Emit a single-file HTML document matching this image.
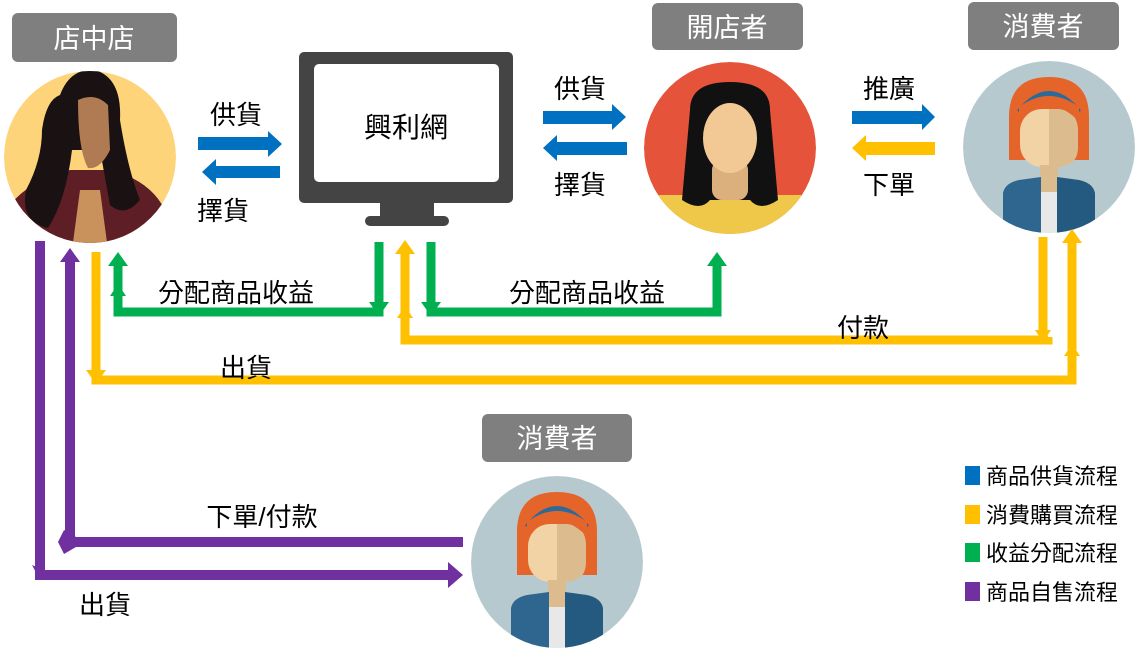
<!DOCTYPE html>
<html><head><meta charset="utf-8"><style>
html,body{margin:0;padding:0;background:#fff}
svg{display:block}
text{font-family:"Liberation Sans","Noto Sans CJK TC",sans-serif}
</style></head><body>
<svg width="1140" height="652" viewBox="0 0 1140 652" xmlns="http://www.w3.org/2000/svg">
<defs>
<clipPath id="c1"><circle cx="90" cy="157" r="86"/></clipPath>
<clipPath id="c2"><circle cx="730" cy="148" r="86"/></clipPath>
<clipPath id="c3"><circle cx="1049" cy="147" r="86"/></clipPath>
<clipPath id="c4"><circle cx="557" cy="562" r="86"/></clipPath>
<g id="cons">
<circle cx="0" cy="0" r="86" fill="#b6c9cf"/>
<path d="M-40,-30 Q-40,-70 0,-70 Q40,-70 40,-30 L40,13 L-40,13Z" fill="#e4642a"/>
<path d="M-30,-35 Q0,-72 30,-35" stroke="#2c6a9a" stroke-width="5" fill="none"/>
<rect x="-29" y="-38" width="58" height="58" rx="22" fill="#f2d3a6"/>
<path d="M0,-38 H7 Q29,-38 29,-16 V0 Q29,20 7,20 H0Z" fill="#dcbb8f"/>
<path d="M-30,-28 Q-5,-58 30,-26 L30,-40 Q0,-62 -30,-40Z" fill="#e4642a"/>
<rect x="-9" y="18" width="18" height="30" fill="#dcbb8f"/>
<path d="M-46,90 L-46,46 Q-44,36 -30,33 L-8,30 L-8,90Z" fill="#2f6690"/>
<path d="M46,90 L46,46 Q44,36 30,33 L8,30 L8,90Z" fill="#255a80"/>
<rect x="-8" y="45" width="16" height="45" fill="#e8e8e8"/>
</g>
</defs>

<rect x="12" y="13" width="165" height="49" rx="6" fill="#7f7f7f"/>
<text x="94" y="48" font-size="27" fill="#fff" text-anchor="middle">店中店</text>
<rect x="652" y="3" width="151" height="47" rx="6" fill="#7f7f7f"/>
<text x="727" y="37" font-size="27" fill="#fff" text-anchor="middle">開店者</text>
<rect x="968" y="2" width="151" height="48" rx="6" fill="#7f7f7f"/>
<text x="1043" y="36" font-size="27" fill="#fff" text-anchor="middle">消費者</text>
<rect x="482" y="414" width="150" height="48" rx="6" fill="#7f7f7f"/>
<text x="557" y="448" font-size="27" fill="#fff" text-anchor="middle">消費者</text>

<g clip-path="url(#c1)">
<circle cx="90" cy="157" r="86" fill="#fdd47a"/>
<path d="M0,260 L10,205 Q30,180 70,170 L110,170 Q150,180 165,210 L175,260Z" fill="#5e1e26"/>
<path d="M80,190 L100,190 L108,250 L72,250Z" fill="#c9925c"/>
<path d="M60,95 Q70,68 95,70 Q122,78 120,120 Q128,170 140,200 Q125,218 110,205 L100,150 L72,150 Q66,200 48,228 Q20,222 26,190 Q42,160 42,130 Q46,100 60,95Z" fill="#1a1212"/>
<path d="M78,100 Q95,92 108,105 L110,150 Q100,170 88,168 Q78,150 78,100Z" fill="#b07a53"/>
</g>

<g clip-path="url(#c2)">
<circle cx="730" cy="148" r="86" fill="#e5533a"/>
<rect x="640" y="195" width="180" height="50" fill="#efc84a"/>
<path d="M690,110 Q690,82 730,82 Q770,82 770,110 L778,200 Q760,212 750,200 L710,200 Q700,212 682,200Z" fill="#111"/>
<rect x="712" y="160" width="36" height="40" rx="10" fill="#dcb07c"/>
<ellipse cx="730" cy="138" rx="27" ry="35" fill="#f2c894"/>
</g>

<g clip-path="url(#c3)"><use href="#cons" x="1049" y="147"/></g>
<g clip-path="url(#c4)"><use href="#cons" x="557" y="562"/></g>

<rect x="299" y="52" width="214" height="151" rx="5" fill="#444"/>
<rect x="314" y="64" width="185" height="118" rx="5" fill="#fff"/>
<rect x="380" y="202" width="54" height="16" fill="#444"/>
<rect x="365" y="216" width="84" height="10" rx="5" fill="#444"/>
<text x="406" y="137" font-size="28" text-anchor="middle" fill="#000">興利網</text>

<path d="M198,137 H268 V131 L282,144 L268,157 V150 H198Z" fill="#0070c0"/>
<path d="M280,166 H216 V159 L202,172 L216,185 V178 H280Z" fill="#0070c0"/>
<text x="236" y="124" font-size="26" text-anchor="middle">供貨</text>
<text x="223" y="220" font-size="26" text-anchor="middle">擇貨</text>
<path d="M543,111 H612 V104 L626,117 L612,130 V124 H543Z" fill="#0070c0"/>
<path d="M627,142 H557 V135 L543,148 L557,161 V155 H627Z" fill="#0070c0"/>
<text x="580" y="98" font-size="26" text-anchor="middle">供貨</text>
<text x="580" y="194" font-size="26" text-anchor="middle">擇貨</text>
<path d="M852,111 H922 V104 L935,117 L922,130 V124 H852Z" fill="#0070c0"/>
<path d="M935,142 H866 V135 L852,148 L866,161 V155 H935Z" fill="#ffc000"/>
<text x="889" y="98" font-size="26" text-anchor="middle">推廣</text>
<text x="889" y="194" font-size="26" text-anchor="middle">下單</text>

<g fill="none" stroke="#00b050" stroke-width="9">
<path d="M118,262 V312 H379 V305"/>
<path d="M379,242 V305"/>
<path d="M431,242 V312 H717 V262"/>
</g>
<g fill="#00b050">
<path d="M108,266 L118,252 L128,266Z"/>
<path d="M110,296 L118,284 L126,296Z"/>
<path d="M369,302 L379,316 L389,302Z"/>
<path d="M421,302 L431,316 L441,302Z"/>
<path d="M707,266 L717,252 L727,266Z"/>
</g>
<text x="236" y="302" font-size="26" text-anchor="middle">分配商品收益</text>
<text x="587" y="302" font-size="26" text-anchor="middle">分配商品收益</text>

<g fill="none" stroke="#ffc000" stroke-width="9">
<path d="M96,252 V380 H1072 V240"/>
<path d="M405,252 V340 H1048 V337"/>
<path d="M1043,237 V335"/>
</g>
<g fill="#ffc000">
<path d="M395,254 L405,240 L415,254Z"/>
<path d="M397,318 L405,306 L413,318Z"/>
<path d="M86,370 L96,384 L106,370Z"/>
<path d="M1062,243 L1072,229 L1082,243Z"/>
<path d="M1064,356 L1072,344 L1080,356Z"/>
<path d="M1035,330 L1043,342 L1051,330Z"/>
</g>
<text x="863" y="337" font-size="26" text-anchor="middle">付款</text>
<text x="246" y="377" font-size="26" text-anchor="middle">出貨</text>

<g fill="none" stroke="#7030a0" stroke-width="10">
<path d="M40,241 V575 H450"/>
<path d="M70,260 V542 H463"/>
</g>
<g fill="#7030a0">
<path d="M60,262 L70,248 L80,262Z"/>
<path d="M448,562 L463,575 L448,588Z"/>
<path d="M64,530 L58,542 L64,554 L76,547 L76,537Z"/>
<path d="M32,565 L40,580 L48,572Z"/>
</g>
<text x="262" y="526" font-size="26" text-anchor="middle">下單/付款</text>
<text x="105" y="614" font-size="26" text-anchor="middle">出貨</text>

<rect x="965" y="466" width="15" height="19" fill="#0070c0"/>
<text x="986" y="484" font-size="22">商品供貨流程</text>
<rect x="965" y="505" width="15" height="19" fill="#ffc000"/>
<text x="986" y="523" font-size="22">消費購買流程</text>
<rect x="965" y="543" width="15" height="19" fill="#00b050"/>
<text x="986" y="561" font-size="22">收益分配流程</text>
<rect x="965" y="582" width="15" height="19" fill="#7030a0"/>
<text x="986" y="600" font-size="22">商品自售流程</text>
</svg>
</body></html>
